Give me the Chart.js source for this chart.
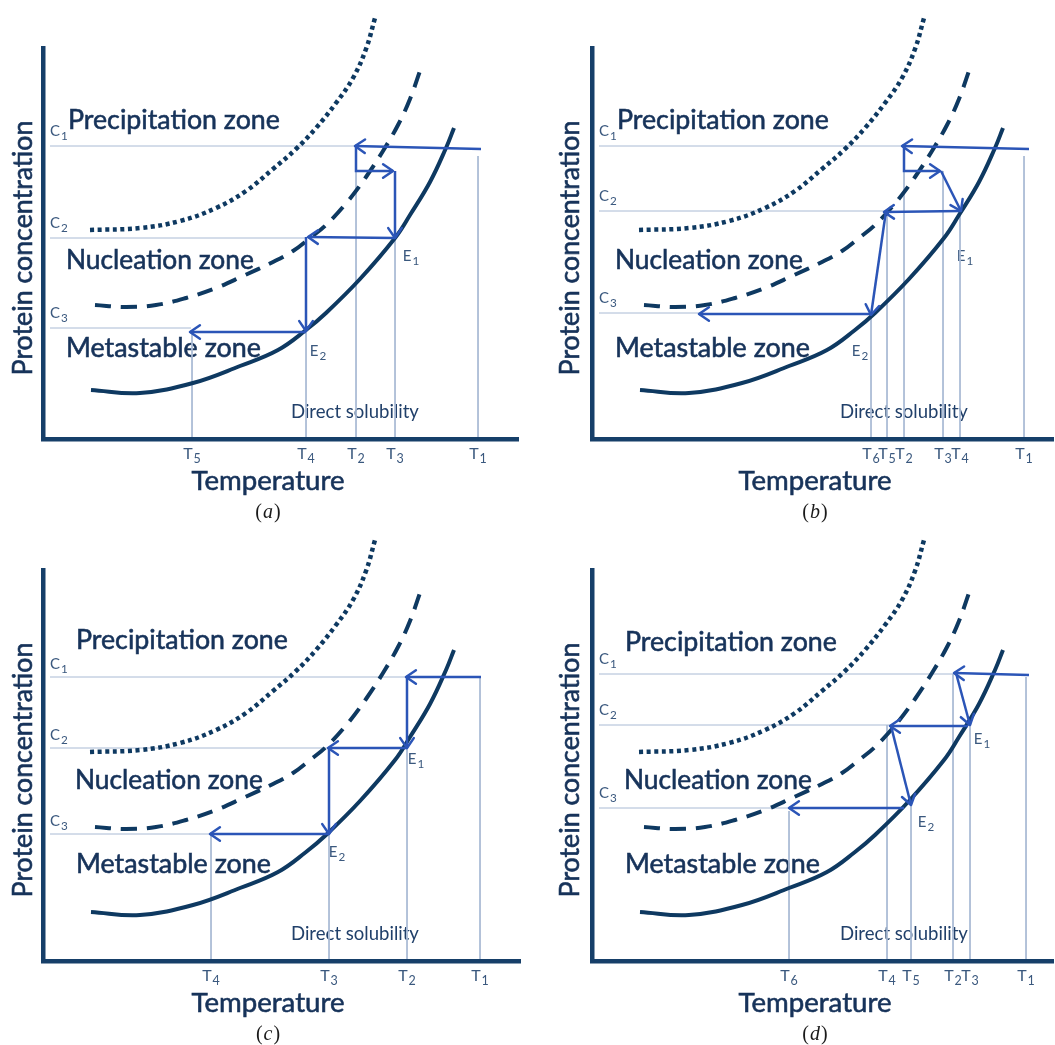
<!DOCTYPE html>
<html>
<head>
<meta charset="utf-8">
<script src="https://cdn.jsdelivr.net/npm/chart.js@4.4.1/dist/chart.umd.min.js"></script>
<style>
  html, body { margin: 0; padding: 0; background: #fff; }
  #wrap { position: relative; width: 1055px; height: 1045px; overflow: hidden; }
  #wrap canvas { position: absolute; }
</style>
</head>
<body>
<div id="wrap">
  <canvas id="pa" width="527" height="525" style="left:0;top:0"></canvas>
  <canvas id="pb" width="528" height="525" style="left:527px;top:0"></canvas>
  <canvas id="pc" width="527" height="520" style="left:0;top:525px"></canvas>
  <canvas id="pd" width="528" height="520" style="left:527px;top:525px"></canvas>
</div>
<script>
// shared curves (arbitrary units: temperature along x, concentration along y)
const solubilityT = [48, 97, 150, 197, 235, 263, 283, 317, 352, 367, 387, 403, 411];
const solubilityC = [49, 46, 56, 73, 89, 109, 126, 160, 201, 224, 257, 291, 311];
const nucleationT = [52, 83, 113, 143, 173, 200, 230, 250, 267, 283, 305, 323, 340, 355, 367, 378];
const nucleationC = [134, 132, 134, 141, 151, 163, 177, 188, 201, 214, 238, 262, 288, 314, 340, 371];
const precipitationT = [47, 97, 137, 173, 203, 230, 253, 273, 293, 310, 323, 332];
const precipitationC = [209, 211, 218, 231, 248, 270, 290, 311, 336, 361, 390, 421];

// panel (a)
const aTemps = [149, 263, 313, 352, 435];
const aTempSubs = ['5', '4', '2', '3', '1'];
const aTempTops = [107, 201, 293, 268, 283];
const aConcs = [293, 201, 111];
const aConcEnds = [313, 263, 148];
const aArrows = [
  [[438, 290], [312, 293]],
  [[313, 293], [313, 268], [350, 268]],
  [[352, 268], [352, 201]],
  [[352, 201], [265, 202]],
  [[263, 202], [263, 108]],
  [[263, 107], [147, 107]]
];
const aEq = [[368, 183], [275, 88]];

// panel (b)
const bTemps = [279, 295, 312, 351, 368, 432];
const bTempSubs = ['6', '5', '2', '3', '4', '1'];
const bTempTops = [124, 228, 293, 268, 228, 283];
const bConcs = [293, 228, 126];
const bConcEnds = [310, 292, 107];
const bArrows = [
  [[437, 290], [310, 293]],
  [[312, 293], [312, 268], [348, 268]],
  [[349, 268], [369, 228]],
  [[369, 228], [292, 227]],
  [[294, 228], [279, 124]],
  [[279, 125], [107, 125]]
];
const bEq = [[373, 183], [268, 88]];

// panel (c)
const cTemps = [168, 286, 364, 437];
const cTempSubs = ['4', '3', '2', '1'];
const cTempTops = [127, 213, 284, 284];
const cConcs = [284, 213, 127];
const cConcEnds = [363, 285, 167];
const cArrows = [
  [[438, 284], [363, 284]],
  [[364, 284], [364, 213]],
  [[364, 213], [285, 213]],
  [[286, 213], [286, 127]],
  [[286, 127], [167, 127]]
];
const cEq = [[373, 202], [294, 109]];

// panel (d)
const dTemps = [197, 295, 319, 361, 378, 434];
const dTempSubs = ['6', '4', '5', '2', '3', '1'];
const dTempTops = [150, 236, 156, 287, 236, 284];
const dConcs = [287, 236, 153];
const dConcEnds = [362, 298, 197];
const dArrows = [
  [[437, 286], [362, 288]],
  [[364, 288], [378, 236]],
  [[376, 235], [298, 235]],
  [[299, 235], [319, 156]],
  [[312, 153], [197, 153]]
];
const dEq = [[390, 222], [334, 139]];

const NAVY = '#0e3961';
const AXIS = '#163f69';
const ARROW = '#2b55b7';
const GUIDE = '#a9bad4';
const TEXT = '#17335a';
const SMALL = '#3a587e';
const SANS = 'Lato, "Open Sans", sans-serif';

const panels = {
  pa: { letter: 'a', xMax: 475, pad: { left: 43, top: 48, right: 9, bottom: 86 },
        temps: aTemps, subs: aTempSubs, tops: aTempTops, concs: aConcs, ends: aConcEnds, arrows: aArrows, eq: aEq,
        zones: [[25, 319], [23, 179], [23, 91]], cLift: 15, titleX: 225, yTitleX: -20 },
  pb: { letter: 'b', xMax: 461, pad: { left: 65, top: 48, right: 2, bottom: 86 },
        temps: bTemps, subs: bTempSubs, tops: bTempTops, concs: bConcs, ends: bConcEnds, arrows: bArrows, eq: bEq,
        zones: [[25, 319], [23, 179], [23, 91]], cLift: 15, titleX: 223, yTitleX: -22 },
  pc: { letter: 'c', xMax: 477, pad: { left: 43, top: 45, right: 7, bottom: 84 },
        temps: cTemps, subs: cTempSubs, tops: cTempTops, concs: cConcs, ends: cConcEnds, arrows: cArrows, eq: cEq,
        zones: [[33, 321], [32, 181], [33, 97]], cLift: 13, titleX: 225, yTitleX: -20 },
  pd: { letter: 'd', xMax: 461, pad: { left: 65, top: 45, right: 2, bottom: 84 },
        temps: dTemps, subs: dTempSubs, tops: dTempTops, concs: dConcs, ends: dConcEnds, arrows: dArrows, eq: dEq,
        zones: [[33, 319], [32, 181], [33, 97]], cLift: 15, titleX: 223, yTitleX: -22 }
};

const zip = (xs, ys) => xs.map((x, i) => ({ x, y: ys[i] }));

function fitFont(ctx, text, width) {
  ctx.font = `100px ${SANS}`;
  const w = ctx.measureText(text).width;
  return 100 * width / w;
}

// filled text with a hairline stroke to get closer to the heavier original face
function heavyText(ctx, text, x, y) {
  ctx.fillText(text, x, y);
  ctx.lineWidth = 0.6;
  ctx.strokeStyle = ctx.fillStyle;
  ctx.strokeText(text, x, y);
}

function drawSub(ctx, base, sub, cx, cy, size, color, align) {
  ctx.save();
  ctx.fillStyle = color;
  ctx.textBaseline = 'middle';
  ctx.textAlign = 'left';
  ctx.font = `${size}px ${SANS}`;
  const wb = ctx.measureText(base).width;
  const subSize = size * 0.78;
  ctx.font = `${subSize}px ${SANS}`;
  const ws = ctx.measureText(sub).width;
  const x = align === 'left' ? cx : cx - (wb + ws + 1) / 2;
  ctx.font = `${size}px ${SANS}`;
  ctx.fillText(base, x, cy);
  ctx.font = `${subSize}px ${SANS}`;
  ctx.fillText(sub, x + wb + 1, cy + size * 0.32);
  ctx.restore();
}

const panelText = {
  id: 'panelText',
  beforeDatasetsDraw(chart) {
    const p = panels[chart.canvas.id];
    const ctx = chart.ctx;
    const xs = chart.scales.x, ys = chart.scales.y;
    const px = v => xs.getPixelForValue(v);
    const py = v => ys.getPixelForValue(v);

    // zone names
    const zoneNames = ['Precipitation zone', 'Nucleation zone', 'Metastable zone'];
    const zoneWidths = [212, 188, 195];
    ctx.save();
    ctx.fillStyle = TEXT;
    ctx.textBaseline = 'middle';
    ctx.textAlign = 'left';
    zoneNames.forEach((name, i) => {
      const size = fitFont(ctx, name, zoneWidths[i]);
      ctx.font = `${size}px ${SANS}`;
      heavyText(ctx, name, px(p.zones[i][0]), py(p.zones[i][1]));
    });

    // direct solubility
    let size = fitFont(ctx, 'Direct solubility', 128);
    ctx.font = `${size}px ${SANS}`;
    ctx.fillStyle = '#21406a';
    ctx.fillText('Direct solubility', px(248), py(27));

    // axis titles
    ctx.fillStyle = TEXT;
    ctx.textAlign = 'center';
    size = fitFont(ctx, 'Temperature', 153);
    ctx.font = `${size}px ${SANS}`;
    heavyText(ctx, 'Temperature', px(p.titleX), py(-42.5));

    size = fitFont(ctx, 'Protein concentration', 255);
    ctx.font = `${size}px ${SANS}`;
    ctx.translate(px(p.yTitleX), py(191));
    ctx.rotate(-Math.PI / 2);
    heavyText(ctx, 'Protein concentration', 0, 0);
    ctx.restore();

    // caption
    ctx.save();
    ctx.fillStyle = '#1a1a1a';
    ctx.textBaseline = 'middle';
    ctx.textAlign = 'left';
    const capY = py(-73.5);
    const up = '20px "Liberation Serif", serif';
    const it = 'italic 20px "Liberation Serif", serif';
    ctx.font = up;
    const wp = ctx.measureText('(').width;
    ctx.font = it;
    const wl = ctx.measureText(p.letter).width;
    const cx = px(p.titleX) - (wp * 2 + wl + 2) / 2;
    ctx.font = up;
    ctx.fillText('(', cx, capY);
    ctx.font = it;
    ctx.fillText(p.letter, cx + wp + 1, capY);
    ctx.font = up;
    ctx.fillText(')', cx + wp + wl + 2, capY);
    ctx.restore();

    // tick labels, concentration labels, equilibrium labels
    p.temps.forEach((t, i) => drawSub(ctx, 'T', p.subs[i], px(t), py(-15), 16, SMALL));
    p.concs.forEach((c, i) => drawSub(ctx, 'C', String(i + 1), px(7), py(c + p.cLift), 15, SMALL, 'left'));
    p.eq.forEach((e, i) => drawSub(ctx, 'E', String(i + 1), px(e[0]), py(e[1]), 15, SMALL));
  }
};

const arrowHeads = {
  id: 'arrowHeads',
  afterDatasetsDraw(chart) {
    const ctx = chart.ctx;
    chart.data.datasets.forEach((ds, i) => {
      if (!ds.arrow) return;
      const pts = chart.getDatasetMeta(i).data;
      const a = pts[pts.length - 2], b = pts[pts.length - 1];
      const ang = Math.atan2(b.y - a.y, b.x - a.x);
      const len = 12, spread = 0.6;
      ctx.save();
      ctx.strokeStyle = ARROW;
      ctx.lineWidth = 2.5;
      ctx.lineCap = 'round';
      ctx.lineJoin = 'round';
      ctx.beginPath();
      ctx.moveTo(b.x - len * Math.cos(ang - spread), b.y - len * Math.sin(ang - spread));
      ctx.lineTo(b.x, b.y);
      ctx.lineTo(b.x - len * Math.cos(ang + spread), b.y - len * Math.sin(ang + spread));
      ctx.stroke();
      ctx.restore();
    });
  }
};

function buildPanel(id) {
  const p = panels[id];
  const datasets = [];

  p.concs.forEach((c, i) => datasets.push({
    data: [{ x: 7, y: c }, { x: p.ends[i], y: c }],
    borderColor: GUIDE, borderWidth: 1, order: 3
  }));
  p.temps.forEach((t, i) => datasets.push({
    data: [{ x: t, y: p.tops[i] }, { x: t, y: 2 }],
    borderColor: GUIDE, borderWidth: 1, order: 3
  }));

  datasets.push({
    data: zip(precipitationT, precipitationC),
    borderColor: NAVY, borderWidth: 4.5, borderDash: [4, 3.6], borderCapStyle: 'butt',
    tension: 0.4, order: 2
  });
  datasets.push({
    data: zip(nucleationT, nucleationC),
    borderColor: NAVY, borderWidth: 4, borderDash: [16, 10], borderCapStyle: 'butt',
    tension: 0.4, order: 2
  });
  datasets.push({
    data: zip(solubilityT, solubilityC),
    borderColor: NAVY, borderWidth: 4, borderCapStyle: 'butt',
    tension: 0.4, order: 2
  });

  p.arrows.forEach(path => datasets.push({
    data: path.map(([x, y]) => ({ x, y })),
    borderColor: ARROW, borderWidth: 2.5, borderJoinStyle: 'miter', arrow: true, order: 1
  }));

  datasets.forEach(ds => { ds.pointRadius = 0; ds.clip = false; ds.fill = false; });

  new Chart(document.getElementById(id), {
    type: 'line',
    data: { datasets },
    options: {
      responsive: false,
      animation: false,
      devicePixelRatio: 1,
      layout: { padding: p.pad },
      plugins: { legend: { display: false }, tooltip: { enabled: false } },
      scales: {
        x: {
          type: 'linear', min: 0, max: p.xMax,
          grid: { display: false, drawTicks: false, tickLength: 0 },
          ticks: { display: false },
          border: { display: true, color: AXIS, width: 4.5 }
        },
        y: {
          type: 'linear', min: 0, max: 391,
          grid: { display: false, drawTicks: false, tickLength: 0 },
          ticks: { display: false },
          border: { display: true, color: AXIS, width: 4.5 }
        }
      }
    },
    plugins: [panelText, arrowHeads]
  });
}

['pa', 'pb', 'pc', 'pd'].forEach(buildPanel);
</script>
</body>
</html>
